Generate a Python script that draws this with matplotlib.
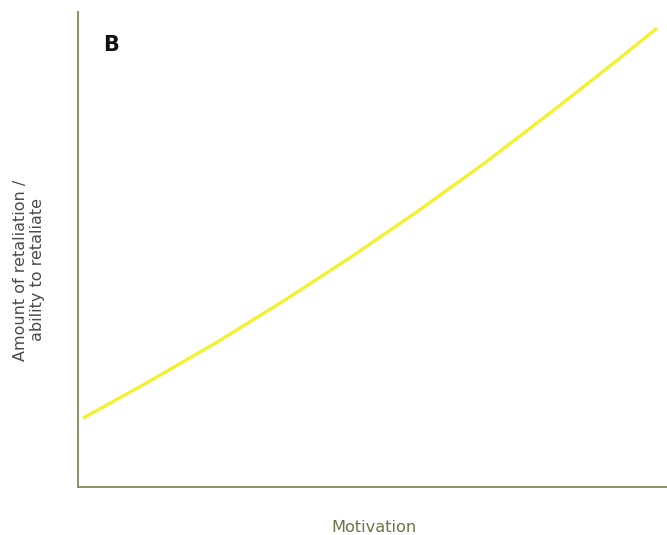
import numpy as np
import matplotlib.pyplot as plt

# curve (arbitrary units, axes 0..10)
motivation = [0.085, 1.22, 2.36, 3.48, 4.62, 5.76, 6.88, 8.01, 9.15, 9.83]
retaliation = [1.45, 2.23, 3.05, 3.91, 4.83, 5.80, 6.80, 7.87, 8.98, 9.66]

panel_label = 'B'
x_label = 'Motivation'
y_label = 'Amount of retaliation /\nability to retaliate'


def main():
    fig = plt.figure(figsize=(6.67, 5.35), dpi=100)
    ax = fig.add_axes([78 / 667, 48 / 535, 1 - 78 / 667, 475 / 535])

    ax.plot(motivation, retaliation, color='#f2f22a', lw=2.3,
            solid_capstyle='butt', solid_joinstyle='round')

    ax.set_xlim(0, 10)
    ax.set_ylim(0, 10)
    ax.set_xticks([])
    ax.set_yticks([])
    for side in ['top', 'right']:
        ax.spines[side].set_visible(False)
    for side in ['left', 'bottom']:
        ax.spines[side].set_color('#8c9264')
        ax.spines[side].set_linewidth(1.4)

    fig.text(111 / 667, 1 - 45 / 535, panel_label, fontsize=15, fontweight='bold',
             color='#111111', ha='center', va='center')
    fig.text(374 / 667, 1 - 527 / 535, x_label, fontsize=11.7, color='#6e7445',
             ha='center', va='center')
    fig.text(29 / 667, 1 - 270 / 535, y_label, fontsize=11.5, color='#4a4a4a',
             ha='center', va='center', rotation=90, linespacing=1.1)

    fig.savefig('out.png', dpi=100)
    plt.close(fig)


if __name__ == '__main__':
    main()
